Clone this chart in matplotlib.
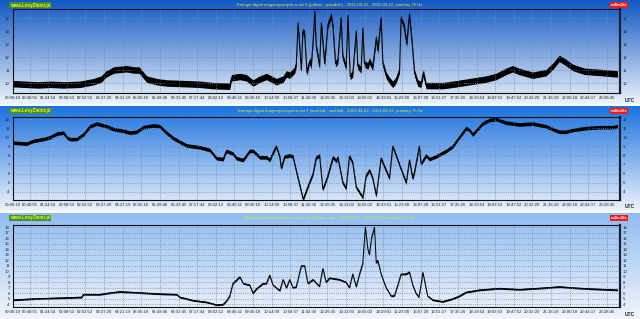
import numpy as np
import matplotlib
matplotlib.use("Agg")
import matplotlib.pyplot as plt
from matplotlib.colors import LinearSegmentedColormap

plt.rcParams['font.family'] = ['Liberation Sans', 'DejaVu Sans']

W, H = 640, 319

# opisy osi czasu
time_labels = ["00:00:19", "00:40:55", "01:24:54", "02:08:53", "02:52:52", "03:37:20",
               "04:21:19", "05:05:18", "05:49:46", "06:33:45", "07:17:44", "08:02:12",
               "08:46:11", "09:30:10", "10:14:09", "10:58:37", "11:42:36", "12:26:35",
               "13:11:03", "13:55:02", "14:39:01", "15:23:00", "16:07:28", "16:51:27",
               "17:35:26", "18:19:54", "19:03:53", "19:47:52", "20:32:20", "21:16:19",
               "22:00:18", "22:44:17", "23:28:45"]

# os X (polnoc - poludnie): godzina, wartosc
t_x = [0.0, 0.5, 1.0, 1.5, 2.0, 2.66, 3.2, 3.5, 3.7, 4.0, 4.5, 4.8, 5.0, 5.3, 5.7, 6.1,
       6.8, 7.4, 7.9, 8.58, 8.65, 8.98, 9.24, 9.5, 9.77, 10.03, 10.23, 10.42, 10.69, 10.82,
       10.95, 11.15, 11.21, 11.28, 11.41, 11.47, 11.54, 11.63, 11.71, 11.76, 11.8, 11.9,
       11.94, 12.0, 12.13, 12.2, 12.33, 12.46, 12.59, 12.66, 12.76, 12.85, 12.98, 13.05,
       13.18, 13.25, 13.34, 13.44, 13.58, 13.64, 13.77, 13.84, 13.9, 14.04, 14.1, 14.23,
       14.37, 14.43, 14.56, 14.63, 14.76, 14.89, 15.02, 15.15, 15.29, 15.35, 15.48, 15.57,
       15.68, 15.79, 15.88, 16.01, 16.14, 16.23, 16.34, 16.6, 17.0, 17.4, 18.05, 18.7,
       19.1, 19.5, 19.76, 20.0, 20.55, 21.08, 21.35, 21.6, 21.85, 22.13, 22.6, 23.3, 23.9]
v_x = [9.95, 9.9, 9.85, 9.9, 9.85, 9.9, 10.1, 10.3, 10.7, 11.0, 11.1, 11.0, 11.0, 10.3, 10.1, 10.0,
       9.95, 9.9, 9.8, 9.75, 10.4, 10.5, 10.4, 10.0, 10.3, 10.5, 10.3, 10.1, 10.3, 10.7,
       10.6, 11.0, 11.5, 14.6, 11.0, 14.0, 13.8, 10.8, 11.5, 11.7, 11.3, 14.0,
       15.5, 12.8, 11.3, 14.6, 11.5, 14.5, 15.2, 14.3, 11.5, 11.7, 15.0, 12.0,
       11.2, 15.2, 10.5, 10.7, 14.0, 11.3, 11.0, 14.2, 11.5, 11.3, 11.7, 11.2,
       13.5, 12.5, 15.0, 11.5, 10.6, 10.2, 9.9, 10.2, 11.0, 15.0, 14.3, 13.0,
       15.3, 13.0, 10.8, 10.0, 9.9, 10.8, 9.8, 9.8, 9.8, 9.9, 10.1, 10.3,
       10.5, 10.9, 11.1, 10.9, 10.6, 10.8, 11.3, 11.9, 11.6, 11.2, 10.9, 10.8, 10.7]

# os Y (wschod - zachod)
t_y = [0.04, 0.56, 0.82, 1.22, 1.48, 1.75, 2.01, 2.14, 2.27, 2.53, 2.8, 3.06, 3.32, 3.72,
       3.98, 4.38, 4.64, 4.9, 5.16, 5.56, 5.82, 6.08, 6.35, 6.61, 6.87, 7.4, 7.79, 8.06,
       8.32, 8.45, 8.71, 8.85, 9.11, 9.37, 9.5, 9.77, 10.03, 10.16, 10.36, 10.42, 10.56,
       10.62, 10.75, 10.95, 11.08, 11.15, 11.28, 11.48, 11.67, 11.87, 12.0, 12.13, 12.26,
       12.46, 12.66, 12.79, 12.85, 13.05, 13.18, 13.31, 13.44, 13.58, 13.84, 13.97, 14.1,
       14.23, 14.37, 14.56, 14.69, 14.89, 15.02, 15.22, 15.35, 15.55, 15.68, 15.81, 15.88,
       16.07, 16.14, 16.34, 16.47, 16.73, 17.13, 17.39, 17.65, 17.92, 18.05, 18.18, 18.57,
       18.84, 19.1, 19.49, 20.02, 20.55, 21.07, 21.33, 21.6, 21.86, 22.12, 22.65, 23.18,
       23.7, 23.9]
v_y = [9.4, 9.3, 9.6, 9.8, 10.0, 10.4, 10.5, 10.0, 9.8, 9.8, 10.3, 11.2, 11.5, 11.2,
       10.9, 10.7, 10.5, 10.6, 11.1, 11.3, 11.2, 10.5, 9.9, 9.5, 9.1, 8.9, 8.6, 7.7,
       7.6, 8.5, 8.2, 7.7, 7.5, 8.5, 8.5, 7.8, 7.8, 7.5, 8.7, 9.0, 7.8,
       6.6, 7.9, 8.0, 7.9, 7.0, 5.5, 3.2, 4.6, 6.0, 7.8, 8.0, 4.3,
       5.8, 7.8, 7.4, 7.8, 5.0, 4.4, 7.9, 7.2, 4.5, 3.4, 5.8, 6.4,
       5.5, 3.6, 7.7, 6.8, 5.5, 9.0, 7.5, 6.5, 5.0, 7.5, 5.5, 6.2,
       9.0, 7.1, 8.0, 7.6, 7.9, 8.5, 9.0, 10.0, 11.0, 10.8, 10.3, 11.5,
       11.9, 12.0, 11.6, 11.4, 11.5, 11.2, 10.9, 10.6, 10.6, 10.8, 11.0, 11.1,
       11.1, 11.2]

# os Z (gora - dol)
t_z = [0.04, 0.82, 2.14, 2.73, 2.8, 3.45, 3.72, 4.24, 5.03, 5.82, 6.48, 6.61, 7.14, 7.66,
       8.06, 8.32, 8.45, 8.58, 8.71, 8.98, 9.11, 9.37, 9.5, 9.63, 9.9, 10.03, 10.16, 10.29,
       10.42, 10.56, 10.69, 10.82, 10.95, 11.08, 11.21, 11.41, 11.54, 11.67, 11.87, 12.07,
       12.13, 12.26, 12.39, 12.52, 12.92, 13.18, 13.31, 13.44, 13.58, 13.71, 13.84, 13.94,
       14.04, 14.1, 14.19, 14.3, 14.37, 14.43, 14.56, 14.76, 14.96, 15.09, 15.22, 15.35,
       15.55, 15.68, 15.81, 15.94, 16.05, 16.14, 16.21, 16.27, 16.4, 16.6, 16.99, 17.39,
       17.65, 17.92, 18.44, 19.23, 20.02, 21.07, 21.6, 22.12, 22.91, 23.9]
v_z = [4.8, 5.0, 5.2, 5.3, 5.8, 5.8, 6.0, 6.3, 6.1, 5.9, 5.8, 5.3, 4.7, 4.4,
       3.9, 4.0, 4.6, 5.5, 7.8, 9.0, 7.8, 7.5, 6.0, 6.8, 7.8, 7.8, 9.3, 7.5,
       7.0, 6.5, 8.5, 7.0, 8.5, 7.0, 7.2, 11.0, 11.0, 7.8, 8.5, 7.5,
       7.3, 10.5, 8.0, 8.8, 8.5, 8.0, 7.0, 9.5, 7.2, 9.5, 11.5, 18.0,
       14.0, 13.0, 16.2, 18.0, 11.5, 12.0, 9.5, 7.0, 5.5, 5.6, 7.5, 9.5,
       9.5, 9.9, 7.5, 6.0, 5.3, 7.5, 9.8, 8.5, 5.5, 4.8, 4.5, 5.0,
       5.5, 6.2, 6.6, 6.9, 6.7, 7.0, 7.2, 7.0, 6.8, 6.6]

# szerokosc szumu
spread_x, spread_y, spread_z = 0.25, 0.2, 0.15

titles = ["Energia drgań magnetycznych w osi X (północ - południe) - 2021-04-22 - 2021-04-22, pomiary 75 Hz",
          "Energia drgań magnetycznych w osi Y (wschód - zachód) - 2021-04-22 - 2021-04-22, pomiary 75 Hz",
          "Energia drgań magnetycznych w osi Z (góra - dół) - 2021-04-22 - 2021-04-22, pomiary 75 Hz"]


def to_hours(s):
    hh, mm, ss = s.split(":")
    return int(hh) + int(mm) / 60 + int(ss) / 3600


tick_pos = [to_hours(s) for s in time_labels]

fig = plt.figure(figsize=(W / 100, H / 100), dpi=100)
fig.patch.set_facecolor("white")


def fx(x):
    return x / W


def fy(y):
    return 1 - y / H


def panel(p_top, p_bot, a_top, a_bot, c_top, c_bot, t, v, spread, ylim, yticks, title):
    # tlo z gradientem
    bg = fig.add_axes([0, fy(p_bot), 1, (p_bot - p_top) / H], zorder=0)
    cmap = LinearSegmentedColormap.from_list("g", [c_top, c_bot])
    bg.imshow(np.linspace(0, 1, 256).reshape(-1, 1), cmap=cmap, aspect="auto")
    bg.axis("off")

    ax = fig.add_axes([fx(12.5), fy(a_bot), fx(620 - 12.5), (a_bot - a_top) / H], zorder=1)
    ax.patch.set_alpha(0)
    t = np.array(t)
    v = np.array(v)
    ax.fill_between(t, v - spread, v + spread, color="black", lw=0)
    ax.plot(t, v, color="black", lw=0.7)
    ax.set_xlim(0, 24)
    ax.set_ylim(*ylim)
    ax.set_xticks(tick_pos)
    ax.set_xticklabels(time_labels)
    ax.set_yticks(yticks)
    ax.tick_params(length=0, labelsize=3.1, labelcolor="#222222", pad=2,
                   labelleft=True, labelright=True)
    ax.grid(True, color="#7a8aa0", ls=":", lw=0.6)
    for s in ["left", "bottom", "top"]:
        ax.spines[s].set_color("#111111")
        ax.spines[s].set_linewidth(0.8)
    ax.spines["right"].set_color("#1a2233")
    ax.spines["right"].set_linewidth(1.6)

    # napisy w naglowku
    fig.text(fx(10), fy(p_top + 5), "www.LosyZiemi.pl", fontsize=3.3, fontweight="bold",
             color="#f4f400", va="center", ha="left",
             bbox=dict(boxstyle="square,pad=0.15", fc="#3d8f3a", ec="none"))
    fig.text(fx(330), fy(p_top + 5), title, fontsize=3.1, color="#d6f02a",
             va="center", ha="center")
    fig.text(fx(619), fy(p_top + 5), "mJ/m3/s", fontsize=3.1, fontweight="bold",
             color="white", va="center", ha="center",
             bbox=dict(boxstyle="square,pad=0.2", fc="#ee1c1c", ec="none"))
    fig.text(fx(630), fy(a_bot + 7), "UTC", fontsize=3.6, fontweight="bold",
             color="#222222", va="center", ha="center")
    return ax


panel(0, 104, 9, 93, "#1158c4", "#eef3fa", t_x, v_x, spread_x, (9.23, 15.7),
      range(10, 16), titles[0])
panel(106, 211, 117, 200, "#1a72e0", "#eef3fb", t_y, v_y, spread_y, (3.12, 12.22),
      range(4, 13), titles[1])
panel(213, 319, 225, 307, "#8fbcf2", "#f2f5fb", t_z, v_z, spread_z, (3.51, 18.42),
      range(4, 19), titles[2])

fig.savefig("out.png", dpi=100)
